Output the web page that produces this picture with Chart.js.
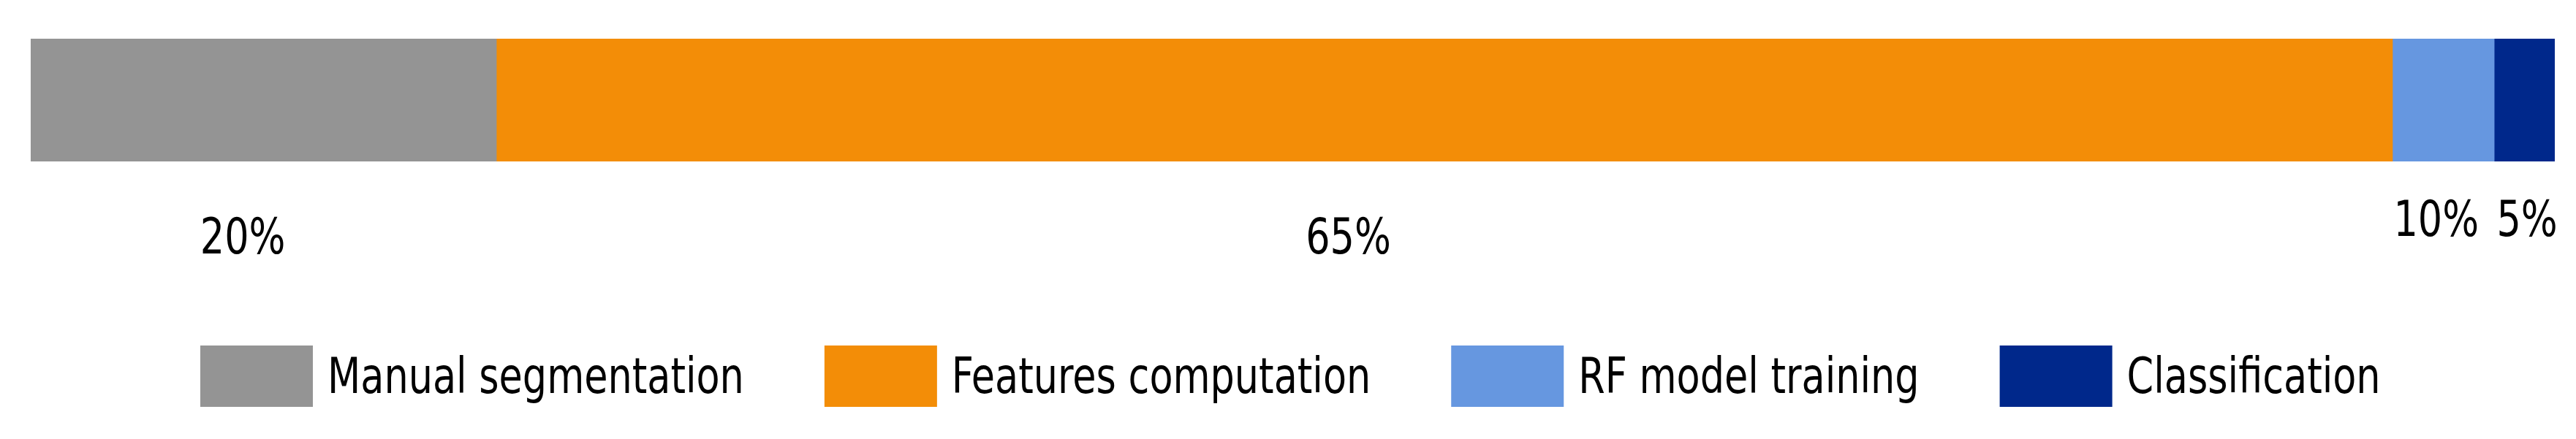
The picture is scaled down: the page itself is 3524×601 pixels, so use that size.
<!DOCTYPE html>
<html>
<head>
<meta charset="utf-8">
<title>Time share per step</title>
<script src="https://cdn.jsdelivr.net/npm/chart.js@4"></script>
<style>
  html, body { margin: 0; padding: 0; background: #fff; }
  #wrap { width: 3524px; height: 601px; }
</style>
</head>
<body>
<div id="wrap"><canvas id="grafico" width="3524" height="601"></canvas></div>
<script>
const etapas = ['Manual segmentation', 'Features computation', 'RF model training', 'Classification'];
const larguras = [18.45, 75.12, 4.03, 2.40];
// Rótulos escritos abaixo da barra
const rotulos = ['20%', '65%', '10%', '5%'];
// posição dos rótulos no eixo x (mesma unidade da barra)
const rotuloPos = [8.4, 52.2, 95.3, 98.9];
const cores = ['#949494', '#f38d07', '#6697e0', '#00288b'];

const fonte = '"DejaVu Sans Condensed", "Noto Sans", sans-serif';
const aperto = 0.87; // fonte original é mais estreita

function texto(c, t, x, y) {
    c.save();
    c.translate(x, y);
    c.scale(aperto, 1);
    c.fillText(t, 0, 0);
    c.restore();
}

// Rótulos e legenda desenhados à mão
const extras = {
    id: 'extras',
    afterDraw(chart) {
        const c = chart.ctx;
        const xs = chart.scales.x;
        c.save();
        c.fillStyle = '#000';
        c.font = '67px ' + fonte;
        c.textAlign = 'center';
        c.textBaseline = 'alphabetic';
        rotulos.forEach((t, i) => {
            const y = i < 2 ? 347 : 323;
            texto(c, t, xs.getPixelForValue(rotuloPos[i]), y);
        });

        // legenda
        c.textAlign = 'left';
        let x = 274;
        etapas.forEach((nome, i) => {
            c.fillStyle = cores[i];
            c.fillRect(x, 473, 154, 84);
            c.fillStyle = '#000';
            texto(c, nome, x + 154 + 20, 538);
            x += 154 + 20 + c.measureText(nome).width * aperto + 110;
        });
        c.restore();
    }
};

const ctx = document.getElementById('grafico').getContext('2d');
const grafico = new Chart(ctx, {
    type: 'bar',
    data: {
        labels: ['tempo'],
        datasets: etapas.map((nome, i) => ({
            label: nome,
            data: [larguras[i]],
            backgroundColor: cores[i],
            borderWidth: 0,
            barPercentage: 1,
            categoryPercentage: 1
        }))
    },
    options: {
        indexAxis: 'y',
        responsive: false,
        animation: false,
        layout: {
            padding: { left: 42, right: 29, top: 53, bottom: 380 }
        },
        plugins: {
            legend: { display: false },
            tooltip: { enabled: false }
        },
        scales: {
            x: { stacked: true, display: false, min: 0, max: 100 },
            y: { stacked: true, display: false }
        }
    },
    plugins: [extras]
});
</script>
</body>
</html>
